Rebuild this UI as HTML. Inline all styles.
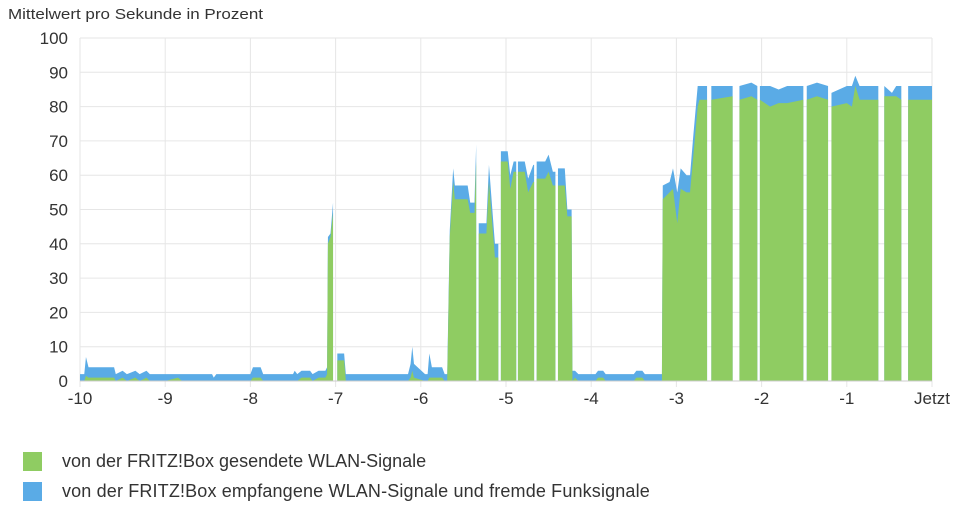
<!DOCTYPE html>
<html><head><meta charset="utf-8"><style>
body{margin:0;background:#fff;font-family:"Liberation Sans",sans-serif;}
#wrap{position:relative;width:956px;height:518px;overflow:hidden}
.lg{position:absolute;left:23px;width:19px;height:19px}
.lt{position:absolute;left:62px;font-size:18px;color:#333;white-space:nowrap}
</style></head><body>
<div id="wrap">
<svg id="chart" width="956" height="440" style="position:absolute;left:0;top:0">
<text x="8" y="19" font-size="15" fill="#333" font-family="Liberation Sans, sans-serif" textLength="255" lengthAdjust="spacingAndGlyphs">Mittelwert pro Sekunde in Prozent</text>
</svg>
<div class="lg" style="top:452px;background:#8fcc62"></div>
<div class="lt" style="top:451px">von der FRITZ!Box gesendete WLAN-Signale</div>
<div class="lg" style="top:482px;background:#5aabe6"></div>
<div class="lt" style="top:481px;letter-spacing:0.15px">von der FRITZ!Box empfangene WLAN-Signale und fremde Funksignale</div>
</div>
<script>
// null entries mark gaps in the data
const times=[-10,-9.95,-9.93,-9.9,-9.6,-9.58,-9.5,-9.45,-9.35,-9.3,-9.22,-9.18,-9.0,-8.85,-8.8,-8.45,-8.43,-8.4,-8.0,-7.97,-7.88,-7.85,-7.5,-7.48,-7.45,-7.4,-7.3,-7.27,-7.2,-7.12,-7.1,-7.09,-7.06,-7.03,null,
-6.98,-6.9,-6.88,-6.15,-6.12,-6.10,-6.08,-5.95,-5.92,-5.90,-5.87,-5.75,-5.72,-5.69,-5.66,-5.62,-5.60,-5.45,-5.42,-5.37,-5.35,null,
-5.32,-5.23,-5.20,-5.13,-5.09,null,
-5.06,-4.98,-4.95,-4.91,-4.88,null,
-4.86,-4.78,-4.74,-4.68,-4.67,null,
-4.64,-4.54,-4.50,-4.45,-4.42,null,
-4.39,-4.31,-4.28,-4.23,-4.22,-4.19,-4.15,-3.95,-3.92,-3.86,-3.83,-3.5,-3.47,-3.4,-3.37,-3.17,
-3.16,-3.08,-3.04,-2.99,-2.95,-2.88,-2.84,-2.8,-2.75,-2.73,-2.64,null,
-2.59,-2.34,null,
-2.26,-2.12,-2.05,null,
-2.02,-1.9,-1.8,-1.7,-1.51,null,
-1.47,-1.35,-1.22,null,
-1.18,-1.0,-0.94,-0.9,-0.85,-0.63,null,
-0.56,-0.47,-0.42,-0.36,null,
-0.28,0];
const totals=[2,2,7,4,4,2,3,2,3,2,3,2,2,2,2,2,1,2,2,4,4,2,2,3,2,3,3,2,3,3,4,42,43,52,null,
8,8,2,2,5,10,5,2,2,8,4,4,2,2,44,62,57,57,52,52,69,null,
46,46,63,40,40,null,
67,67,60,64,64,null,
64,64,59,63,63,null,
64,64,66,61,61,null,
62,62,50,50,3,3,2,2,3,3,2,2,3,3,2,2,
57,58,62,55,62,60,60,72,86,86,86,null,
86,86,null,
86,87,86,null,
86,86,85,86,86,null,
86,87,86,null,
84,86,86,89,86,86,null,
86,84,86,86,null,
86,86];
const sent=[0,0,1.5,1,1,0,1,0,1,0,1,0,0,1,0,0,0,0,0,1,1,0,0,0,0,1,1,0,1,1,2,40,42,49,null,
6,6,0,0,1,3,1,0,0,1,1,1,0,0,42,58,53,53,49,49,64,null,
43,43,58,36,36,null,
64,64,56,61,61,null,
61,61,55,58,58,null,
59,59,61,57,57,null,
57,57,48,48,0,1,0,0,1,1,0,0,1,1,0,0,
53,55,56,46,56,55,55,66,80,82,82,null,
82,83,null,
82,83,82,null,
82,80,81,81,82,null,
82,83,82,null,
80,81,80,86,82,82,null,
83,83,83,82,null,
82,82];
const yTicks=[0,10,20,30,40,50,60,70,80,90,100];
const xTicks=[-10,-9,-8,-7,-6,-5,-4,-3,-2,-1,0];
const xTickLabels=["-10","-9","-8","-7","-6","-5","-4","-3","-2","-1","Jetzt"];

const L=80,R=932,T=38,B=381;
const xs=t=>L+(t+10)/10*(R-L);
const ys=v=>B-v/100*(B-T);
const svg=document.getElementById('chart');
const NS='http://www.w3.org/2000/svg';
function mk(tag,attrs){const e=document.createElementNS(NS,tag);for(const k in attrs)e.setAttribute(k,attrs[k]);svg.appendChild(e);return e;}
yTicks.forEach(v=>{
  const g=mk('line',{x1:L,x2:R,y1:ys(v),y2:ys(v),stroke:'#e6e6e6','stroke-width':1});
  
  
  const t=mk('text',{x:68,y:ys(v)+6,'text-anchor':'end','font-size':17,fill:'#333','font-family':'Liberation Sans, sans-serif'});
  t.textContent=v;
  
  
});
xTicks.forEach((v,i)=>{
  const g=mk('line',{x1:xs(v),x2:xs(v),y1:T,y2:B+6,stroke:'#e6e6e6','stroke-width':1});
  
  
  const t=mk('text',{x:xs(v),y:404,'text-anchor':'middle','font-size':17,fill:'#333','font-family':'Liberation Sans, sans-serif'});
  t.textContent=xTickLabels[i];
  
  
});
let segs=[],cur=[];
times.forEach((t,i)=>{if(t===null){if(cur.length)segs.push(cur);cur=[];}else cur.push(i);});
if(cur.length)segs.push(cur);
function area(idx,arr){
  let d='M'+xs(times[idx[0]])+','+B;
  idx.forEach(i=>{d+=' L'+xs(times[i])+','+ys(arr[i]);});
  d+=' L'+xs(times[idx[idx.length-1]])+','+B+' Z';return d;
}
segs.forEach(idx=>{
  const b=mk('path',{d:area(idx,totals),fill:'#5aabe6'});
  
  
  const g=mk('path',{d:area(idx,sent),fill:'#8fcc62'});
  
  
});
const ax=mk('line',{x1:L,x2:R,y1:B,y2:B,stroke:'#ccc','stroke-width':1});


</script>
</body></html>
